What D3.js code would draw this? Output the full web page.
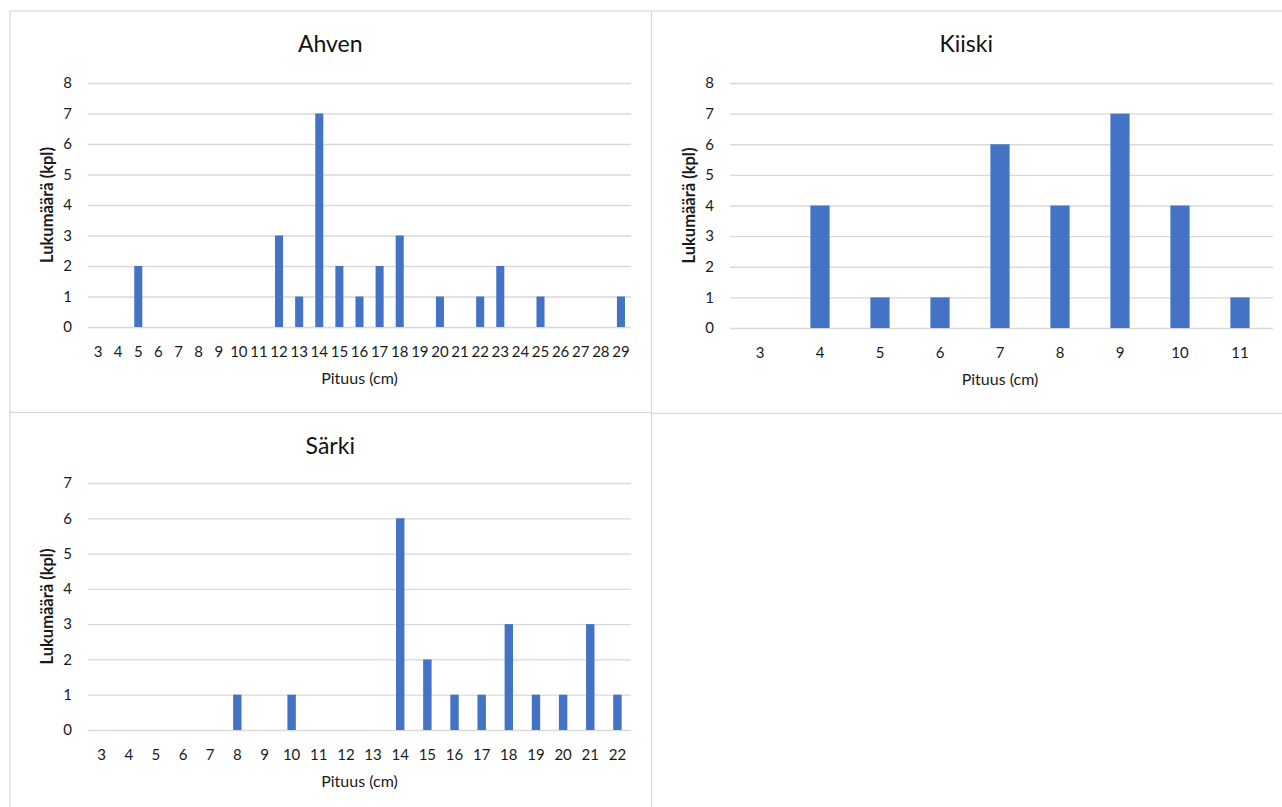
<!DOCTYPE html>
<html>
<head>
<meta charset="utf-8">
<script src="https://cdn.jsdelivr.net/npm/d3@7"></script>
<style>
  html, body { margin: 0; padding: 0; background: #ffffff; }
  svg { display: block; font-family: Lato, "Open Sans", sans-serif; }
</style>
</head>
<body>
<svg id="chart" width="1282" height="807"></svg>
<script>
// Fish length distributions (count per length class, cm)
const ahvenLengths = [3,4,5,6,7,8,9,10,11,12,13,14,15,16,17,18,19,20,21,22,23,24,25,26,27,28,29];
const ahvenCounts  = [0,0,2,0,0,0,0,0,0,3,1,7,2,1,2,3,0,1,0,1,2,0,1,0,0,0,1];
const ahvenTicks   = [0,1,2,3,4,5,6,7,8];

const kiiskiLengths = [3,4,5,6,7,8,9,10,11];
const kiiskiCounts  = [0,4,1,1,6,4,7,4,1];
const kiiskiTicks   = [0,1,2,3,4,5,6,7,8];

const sarkiLengths = [3,4,5,6,7,8,9,10,11,12,13,14,15,16,17,18,19,20,21,22];
const sarkiCounts  = [0,0,0,0,0,1,0,1,0,0,0,6,2,1,1,3,1,1,3,1];
const sarkiTicks   = [0,1,2,3,4,5,6,7];

const titles = ["Ahven", "Kiiski", "Särki"];
const xTitle = "Pituus (cm)";
const yTitle = "Lukumäärä (kpl)";

const BAR = "#4472c4";
const GRID = "#d9d9d9";
const TEXT = "#1a1a1a";

const svg = d3.select("#chart");

const panels = [
  { title: titles[0], lengths: ahvenLengths, counts: ahvenCounts, ticks: ahvenTicks,
    box: [10, 11, 651.5, 412.5], plot: [88, 83, 631, 327], gap: 0.6,
    titleY: 44, tickY: 352, xTitleY: 378, yTitleX: 47, yLabelX: 72 },
  { title: titles[1], lengths: kiiskiLengths, counts: kiiskiCounts, ticks: kiiskiTicks,
    box: [651.5, 11, 1292, 413.5], plot: [730, 83, 1270, 328], gap: 0.68,
    gridRight: 1273,
    titleY: 44, tickY: 353, xTitleY: 379, yTitleX: 689, yLabelX: 714 },
  { title: titles[2], lengths: sarkiLengths, counts: sarkiCounts, ticks: sarkiTicks,
    box: [10, 412.5, 651.5, 820], plot: [88, 483, 631, 730], gap: 0.69,
    titleY: 446, tickY: 755, xTitleY: 781, yTitleX: 47, yLabelX: 72 }
];

panels.forEach(p => {
  const [bx0, by0, bx1, by1] = p.box;
  const [px0, py0, px1, py1] = p.plot;
  const g = svg.append("g");

  // chart frame
  g.append("rect")
    .attr("x", bx0).attr("y", by0)
    .attr("width", bx1 - bx0).attr("height", by1 - by0)
    .attr("fill", "#ffffff")
    .attr("stroke", GRID).attr("stroke-width", 1.2);

  const x = d3.scaleBand()
    .domain(p.lengths)
    .range([px0, px1])
    .paddingInner(p.gap)
    .paddingOuter(p.gap / 2);

  const y = d3.scaleLinear()
    .domain([0, d3.max(p.ticks)])
    .range([py1, py0]);

  // horizontal gridlines
  const gridRight = p.gridRight || px1;
  g.append("g")
    .call(d3.axisLeft(y).tickValues(p.ticks).tickSize(-(gridRight - px0)).tickFormat(""))
    .attr("transform", `translate(${px0},0)`)
    .call(a => a.select(".domain").remove())
    .call(a => a.selectAll("line").attr("stroke", GRID).attr("stroke-width", 1.3));

  // y tick labels
  g.append("g")
    .attr("transform", `translate(${p.yLabelX},0)`)
    .call(d3.axisLeft(y).tickValues(p.ticks).tickSize(0).tickPadding(0).tickFormat(d3.format("d")))
    .call(a => a.select(".domain").remove())
    .call(a => a.selectAll("text")
      .attr("fill", TEXT).attr("font-size", 15)
      .attr("font-family", "Lato, sans-serif"));

  // bars
  g.append("g").selectAll("rect")
    .data(p.lengths.map((len, i) => ({ len, n: p.counts[i] })).filter(d => d.n > 0))
    .join("rect")
    .attr("x", d => x(d.len))
    .attr("y", d => y(d.n))
    .attr("width", x.bandwidth())
    .attr("height", d => y(0) - y(d.n))
    .attr("fill", BAR);

  // x tick labels
  g.append("g")
    .attr("transform", `translate(0,${p.tickY})`)
    .call(d3.axisBottom(x).tickSize(0).tickPadding(0))
    .call(a => a.select(".domain").remove())
    .call(a => a.selectAll("text")
      .attr("dy", "0.35em")
      .attr("fill", TEXT).attr("font-size", 15)
      .attr("font-family", "Lato, sans-serif"));

  // chart title
  g.append("text")
    .attr("x", (bx0 + Math.min(bx1, 1282)) / 2 - 0.5)
    .attr("y", p.titleY)
    .attr("dy", "0.35em")
    .attr("text-anchor", "middle")
    .attr("font-size", 23)
    .attr("fill", "#111111")
    .text(p.title);

  // x axis title
  g.append("text")
    .attr("x", (px0 + px1) / 2)
    .attr("y", p.xTitleY)
    .attr("dy", "0.35em")
    .attr("text-anchor", "middle")
    .attr("font-size", 16)
    .attr("fill", TEXT)
    .text(xTitle);

  // y axis title
  g.append("text")
    .attr("transform", `translate(${p.yTitleX},${(py0 + py1) / 2}) rotate(-90)`)
    .attr("dy", "0.35em")
    .attr("text-anchor", "middle")
    .attr("font-size", 16.5)
    .attr("font-weight", "bold")
    .attr("fill", TEXT)
    .text(yTitle);
});
</script>
</body>
</html>
